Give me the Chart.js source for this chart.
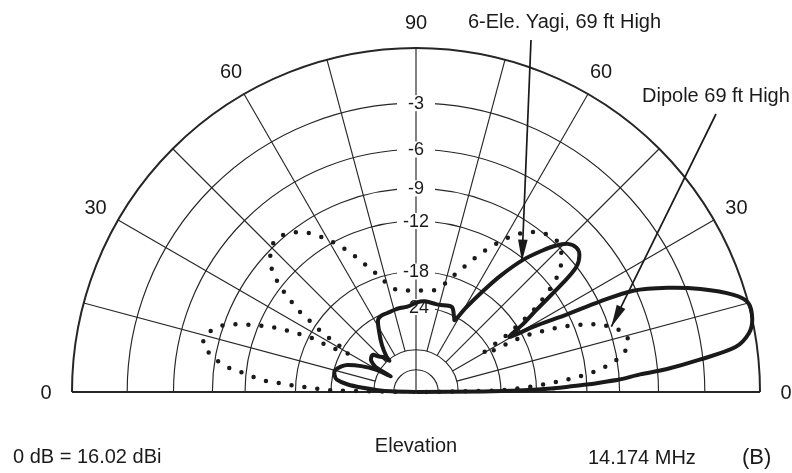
<!DOCTYPE html>
<html>
<head>
<meta charset="utf-8">
<title>Elevation pattern</title>
<script src="https://cdn.jsdelivr.net/npm/chart.js@4.4.1/dist/chart.umd.min.js"></script>
<style>
  html, body { margin: 0; padding: 0; background: #fff; }
  #wrap { width: 792px; height: 473px; }
</style>
</head>
<body>
<div id="wrap"><canvas id="myChart" width="792" height="473"></canvas></div>
<script>
'use strict';

// elevation angle in degrees, gain in dB relative to the Yagi peak
const yagiAngle = [ 0, 0.5, 1, 1.5, 2, 2.5, 3, 3.5, 4.5, 5.2, 6.5, 8, 10, 12.2, 15, 17, 19.9, 22.5, 25, 26.2,
  27.2, 29.1, 30.5, 32.5, 34.3, 36.6, 38, 40, 42, 44.3, 46.5, 48.2, 51, 54, 56.5, 59.4, 61.7, 63, 67, 72,
  76.7, 84.5, 89.6, 95.3, 100.8, 104.5, 110.3, 114.1, 117.7, 121.5, 126, 129.7, 130.5, 133, 136.7, 139, 142.5, 145.4, 148.2, 148,
  151, 154.7, 158.4, 161, 165.3, 168.5, 171.1, 173.7, 175.5, 177, 178.5, 180 ];
const yagiDb = [ -100, -28, -20, -16, -14, -12, -10.5, -9, -7.3, -5.4, -3.2, -1.1, -0.3, 0, 0, -0.6, -2.2, -4, -6.2, -8.9,
  -12.1, -16.1, -19.8, -17, -14.7, -10.8, -9, -8.2, -8, -8.3, -9.2, -10.2, -12.1, -15, -18, -21.6, -24.7, -24.2, -22.6, -22.8,
  -23, -22.8, -23.1, -23.8, -23.9, -24, -24.2, -24.2, -24.7, -27.2, -30.6, -34.4, -36.5, -34, -32.4, -30.9, -31, -31.7, -34, -42,
  -34.5, -29.8, -26.5, -25.3, -24.2, -24.4, -25, -27.7, -32, -37, -45, -100 ];

const dipoleAngle = [ 0, 1, 1.5, 2.3, 2.8, 3.6, 4.3, 5.2, 5.9, 7, 8.3, 10.1, 12.6, 14.5, 16.1, 18, 20.1, 21.6, 23.1, 24.2,
  25.3, 26.5, 27.4, 27.8, 28.2, 28.6, 30, 31.6, 32.4, 33.6, 34.4, 35.7, 36.9, 38.4, 40.3, 43, 46, 49.4, 53, 56,
  58.8, 61.1, 63.6, 66, 68.5, 71.4, 74.3, 79, 86, 90, 94, 101, 105.7, 108.6, 111.5, 114, 116.4, 118.9, 121.3, 124.1,
  127, 130.6, 134, 137.1, 139.7, 141.6, 143.1, 144.3, 145.6, 146.4, 147.6, 148.4, 150, 151.7, 151.9, 152.5, 152.7, 153.7, 154.7, 155.8,
  157.1, 158.5, 159.9, 161.4, 164.1, 167.4, 169.9, 171.7, 173, 173.9, 175.1, 176.1, 176.4, 177.2, 177.7, 178.5, 179, 180 ];
const dipoleDb = [ -60, -25, -22.4, -20.2, -18.2, -16.5, -14.9, -13.2, -12, -10.6, -9.6, -8.5, -7.9, -7.8, -8, -8.7, -9.6, -10.8, -12.1, -13.3,
  -14.8, -16.5, -18.2, -20.2, -22.3, -24.5, -25.5, -21.5, -19.3, -17.4, -15.6, -14.1, -12.8, -11.5, -10.3, -9.4, -8.8, -8.8, -9.3, -10,
  -11, -12, -13.2, -14.5, -15.9, -17.4, -18.9, -20.5, -20.9, -21, -20.9, -20.5, -18.9, -17.4, -15.9, -14.5, -13.2, -12, -11, -10,
  -9.3, -8.8, -8.8, -9.4, -10.3, -11.5, -12.8, -14.1, -15.6, -17.4, -19.3, -21.5, -25.5, -24.5, -22.3, -20.2, -18.2, -16.5, -14.8, -13.3,
  -12, -10.7, -9.6, -8.75, -8, -7.8, -8.7, -9.6, -10.7, -12, -13.2, -14.8, -16.4, -18.2, -20.2, -22.4, -25, -60 ];

// grid
const ringDb = [ 0, -3, -6, -9, -12, -18, -24, -36, -47 ];
const ringLabels = [ '', '-3', '-6', '-9', '-12', '-18', '-24', '', '' ];
const spokeAngles = [ 15, 30, 45, 60, 75, 90, 105, 120, 135, 150, 165 ];
const angleTicks = [ 0, 30, 60, 90, 120, 150, 180 ];
const angleTickLabels = [ '0', '30', '60', '90', '60', '30', '0' ];

const FONT = '"Liberation Sans", Arial, sans-serif';
const INK = '#1a1a1a';

// ARRL log-periodic scale: radius shrinks by 0.89 for every 2 dB
function rho( db ) {
  return Math.pow( 0.89, -db / 2 );
}

function toXY( angles, dbs ) {
  let pts = [];
  for ( let i = 0; i < angles.length; i++ ) {
    let a = angles[i] * Math.PI / 180;
    let r = rho( dbs[i] );
    pts.push( { x: r * Math.cos( a ), y: r * Math.sin( a ) } );
  }
  return pts;
}

const notes = [
  { text: '6-Ele. Yagi, 69 ft High', x: 468, y: 22, tailX: 531, tailY: 40, tipAngle: 50.9, tipDb: -12.3 },
  { text: 'Dipole 69 ft High', x: 642, y: 96, tailX: 716, tailY: 114, tipAngle: 18.5, tipDb: -8.8 }
];

function frame( chart ) {
  const xs = chart.scales.x;
  const ys = chart.scales.y;
  const cx = xs.getPixelForValue( 0 );
  const cy = ys.getPixelForValue( 0 );
  return { cx: cx, cy: cy, R: xs.getPixelForValue( 1 ) - cx };
}

const polarGrid = {
  id: 'polarGrid',
  beforeDatasetsDraw( chart ) {
    const ctx = chart.ctx;
    const f = frame( chart );
    ctx.save();
    ctx.strokeStyle = '#262626';

    for ( let i = 0; i < ringDb.length; i++ ) {
      ctx.lineWidth = i === 0 ? 2 : 1.15;
      ctx.beginPath();
      ctx.arc( f.cx, f.cy, rho( ringDb[i] ) * f.R, Math.PI, 2 * Math.PI );
      ctx.stroke();
    }

    ctx.lineWidth = 1.15;
    const rIn = rho( -36 ) * f.R;
    for ( let i = 0; i < spokeAngles.length; i++ ) {
      let t = spokeAngles[i] * Math.PI / 180;
      let r0 = spokeAngles[i] === 90 ? 0 : rIn;
      ctx.beginPath();
      ctx.moveTo( f.cx + r0 * Math.cos( t ), f.cy - r0 * Math.sin( t ) );
      ctx.lineTo( f.cx + f.R * Math.cos( t ), f.cy - f.R * Math.sin( t ) );
      ctx.stroke();
    }

    ctx.lineWidth = 2.2;
    ctx.beginPath();
    ctx.moveTo( f.cx - f.R, f.cy );
    ctx.lineTo( f.cx + f.R, f.cy );
    ctx.stroke();

    // dB labels sit on a white patch over the 90 degree spoke
    ctx.font = '18px ' + FONT;
    ctx.textAlign = 'center';
    ctx.textBaseline = 'middle';
    for ( let i = 0; i < ringDb.length; i++ ) {
      if ( !ringLabels[i] ) continue;
      let y = f.cy - rho( ringDb[i] ) * f.R;
      ctx.fillStyle = '#fff';
      ctx.fillRect( f.cx - 19, y - 8, 38, 16 );
      ctx.fillStyle = INK;
      ctx.fillText( ringLabels[i], f.cx, y + 1 );
    }

    ctx.font = '20px ' + FONT;
    for ( let i = 0; i < angleTicks.length; i++ ) {
      let t = angleTicks[i] * Math.PI / 180;
      let r = f.R + 26;
      ctx.fillText( angleTickLabels[i], f.cx + r * Math.cos( t ), f.cy - r * Math.sin( t ) + 1 );
    }
    ctx.restore();
  },
  afterDatasetsDraw( chart ) {
    const ctx = chart.ctx;
    const f = frame( chart );
    ctx.save();
    ctx.fillStyle = INK;
    ctx.strokeStyle = INK;
    ctx.textBaseline = 'middle';
    ctx.textAlign = 'left';
    ctx.font = '20px ' + FONT;

    for ( let i = 0; i < notes.length; i++ ) {
      let n = notes[i];
      let t = n.tipAngle * Math.PI / 180;
      let r = rho( n.tipDb ) * f.R;
      let tx = f.cx + r * Math.cos( t );
      let ty = f.cy - r * Math.sin( t );
      ctx.fillText( n.text, n.x, n.y );

      ctx.lineWidth = 1.7;
      ctx.beginPath();
      ctx.moveTo( n.tailX, n.tailY );
      ctx.lineTo( tx, ty );
      ctx.stroke();

      let dx = tx - n.tailX;
      let dy = ty - n.tailY;
      let len = Math.sqrt( dx * dx + dy * dy );
      let ux = dx / len;
      let uy = dy / len;
      let bx = tx - ux * 22;
      let by = ty - uy * 22;
      ctx.beginPath();
      ctx.moveTo( tx, ty );
      ctx.lineTo( bx - uy * 4.8, by + ux * 4.8 );
      ctx.lineTo( bx + uy * 4.8, by - ux * 4.8 );
      ctx.closePath();
      ctx.fill();
    }

    ctx.fillText( '0 dB = 16.02 dBi', 13, 457 );
    ctx.fillText( '14.174 MHz', 588, 458 );
    ctx.textAlign = 'center';
    ctx.fillText( 'Elevation', f.cx, 446 );
    ctx.textAlign = 'left';
    ctx.font = '22px ' + FONT;
    ctx.fillText( '(B)', 742, 458 );
    ctx.restore();
  }
};

let ctx = document.getElementById( 'myChart' ).getContext( '2d' );
let myChart = new Chart( ctx, {
  type: 'scatter',
  data: {
    datasets: [{
      label: '6-Ele. Yagi, 69 ft High',
      data: toXY( yagiAngle, yagiDb ),
      showLine: true,
      borderColor: INK,
      borderWidth: 4,
      borderJoinStyle: 'round',
      borderCapStyle: 'round',
      pointRadius: 0,
      tension: 0.3,
      clip: false
    }, {
      label: 'Dipole 69 ft High',
      data: toXY( dipoleAngle, dipoleDb ),
      showLine: true,
      borderColor: INK,
      borderWidth: 4.5,
      borderDash: [ 0, 13 ],
      borderCapStyle: 'round',
      pointRadius: 0,
      tension: 0.3,
      clip: false
    }]
  },
  options: {
    responsive: false,
    animation: false,
    devicePixelRatio: 1,
    layout: { padding: { left: 72, right: 32, top: 48, bottom: 81 } },
    scales: {
      x: { type: 'linear', min: -1, max: 1, display: false },
      y: { type: 'linear', min: 0, max: 1, display: false }
    },
    plugins: {
      legend: { display: false },
      tooltip: { enabled: false }
    }
  },
  plugins: [ polarGrid ]
} );
</script>
</body>
</html>
